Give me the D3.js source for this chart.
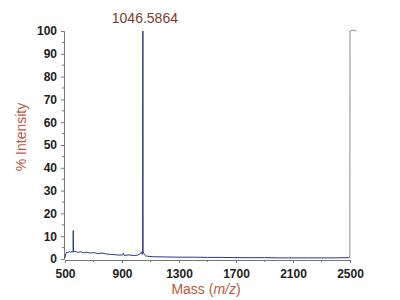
<!DOCTYPE html>
<html>
<head>
<meta charset="utf-8">
<script src="https://cdn.jsdelivr.net/npm/d3@7"></script>
<style>
	body { margin: 0; background: #fff; }
	svg { display: block; font-family: "Liberation Sans", Arial, sans-serif; }
</style>
</head>
<body>
<div id="chart"></div>
<script>
	'use strict';

////////// Data //////////
	// m/z positions and % intensity of the trace (baseline noise + peaks)
	const massValues = [500, 506, 512, 520, 530, 540, 550, 555, 557, 558, 559, 561, 570, 590, 610, 630, 650, 680, 700, 730, 760, 790, 820, 850, 880, 905, 910, 915, 950, 980, 1010, 1030, 1038, 1042, 1045, 1046.6, 1048, 1052, 1058, 1065, 1080, 1120, 1200, 1300, 1400, 1500, 1600, 1700, 1800, 1900, 2000, 2100, 2200, 2300, 2400, 2490, 2497];
	const intensityValues = [0.5, 2.4, 3.0, 2.7, 3.4, 2.9, 3.3, 3.0, 4.0, 12.5, 3.8, 3.1, 3.4, 2.9, 3.2, 2.7, 3.0, 2.6, 2.8, 2.4, 2.6, 2.2, 2.0, 1.9, 1.7, 1.8, 2.6, 1.6, 1.8, 1.5, 1.7, 2.4, 3.2, 2.0, 3.0, 100, 3.2, 2.6, 1.8, 1.4, 1.2, 1.0, 0.9, 0.8, 0.8, 0.7, 0.7, 0.6, 0.6, 0.6, 0.5, 0.5, 0.5, 0.5, 0.5, 0.6, 0.9];
	// end-of-range marker at the right edge (grey)
	const endMass = [2497, 2499, 2500, 2520, 2545];
	const endIntensity = [0.9, 0.5, 100, 100.4, 100];
	const xTickValues = [500, 900, 1300, 1700, 2100, 2500];
	const xMinorTicks = [700, 1100, 1500, 1900, 2300];
	const yTickValues = [0, 10, 20, 30, 40, 50, 60, 70, 80, 90, 100];
	const peakLabel = { mass: 1046.5864, text: '1046.5864' };

	const width = 400;
	const height = 300;
	const margin = { top: 31, right: 50, bottom: 41, left: 65 };

	const svg = d3.select('#chart').append('svg')
		.attr('width', width)
		.attr('height', height);

	const x = d3.scaleLinear()
		.domain([500, 2500])
		.range([margin.left, width - margin.right]);
	const y = d3.scaleLinear()
		.domain([0, 100])
		.range([height - margin.bottom, margin.top]);

	const axisColor = '#777';
	const labelColor = '#222';
	const titleColor = '#c0563e';

	// y axis
	const yAxis = svg.append('g')
		.attr('transform', `translate(${margin.left - 1}, 0)`)
		.call(d3.axisLeft(y).tickValues(yTickValues).tickFormat(d3.format('d')).tickSize(3).tickPadding(4));
	yAxis.select('.domain').attr('stroke', axisColor);
	yAxis.selectAll('.tick line').attr('stroke', axisColor);
	yAxis.selectAll('text')
		.attr('fill', labelColor)
		.style('font-size', '12px')
		.style('font-weight', 'bold');
	// minor y ticks
	svg.append('g').selectAll('line')
		.data(d3.range(0, 101, 5).filter(d => d % 10 !== 0))
		.enter().append('line')
			.attr('x1', margin.left - 1).attr('x2', margin.left - 3)
			.attr('y1', d => y(d)).attr('y2', d => y(d))
			.attr('stroke', axisColor);

	// x axis
	const xAxis = svg.append('g')
		.attr('transform', `translate(0, ${y(0) + 1})`)
		.call(d3.axisBottom(x).tickValues(xTickValues).tickFormat(d3.format('d')).tickSize(3).tickPadding(6));
	xAxis.select('.domain').attr('stroke', axisColor);
	xAxis.selectAll('.tick line').attr('stroke', axisColor);
	xAxis.selectAll('text')
		.attr('fill', labelColor)
		.style('font-size', '12px')
		.style('font-weight', 'bold');
	svg.append('g').selectAll('line')
		.data(xMinorTicks)
		.enter().append('line')
			.attr('x1', d => x(d)).attr('x2', d => x(d))
			.attr('y1', y(0) + 1).attr('y2', y(0) + 3)
			.attr('stroke', axisColor);

	const line = d3.line().x(d => x(d[0])).y(d => y(d[1]));

	// spectrum trace
	svg.append('path')
		.datum(massValues.map((m, i) => [m, intensityValues[i]]))
		.attr('fill', 'none')
		.attr('stroke', '#2b3590')
		.attr('stroke-width', 1)
		.attr('d', line);

	svg.append('path')
		.datum(endMass.map((m, i) => [m, endIntensity[i]]))
		.attr('fill', 'none')
		.attr('stroke', '#8a8d99')
		.attr('stroke-width', 1)
		.attr('d', line);

	// peak label
	svg.append('text')
		.attr('x', x(peakLabel.mass) + 2)
		.attr('y', 23)
		.attr('text-anchor', 'middle')
		.attr('fill', '#7d3b2f')
		.style('font-size', '14px')
		.text(peakLabel.text);

	// axis titles
	svg.append('text')
		.attr('transform', `translate(26, 137) rotate(-90)`)
		.attr('text-anchor', 'middle')
		.attr('fill', titleColor)
		.style('font-size', '14px')
		.text('% Intensity');

	const xTitle = svg.append('text')
		.attr('x', 206)
		.attr('y', 294)
		.attr('text-anchor', 'middle')
		.attr('fill', titleColor)
		.style('font-size', '14px');
	xTitle.append('tspan').text('Mass (');
	xTitle.append('tspan').style('font-style', 'italic').text('m/z');
	xTitle.append('tspan').text(')');
</script>
</body>
</html>
